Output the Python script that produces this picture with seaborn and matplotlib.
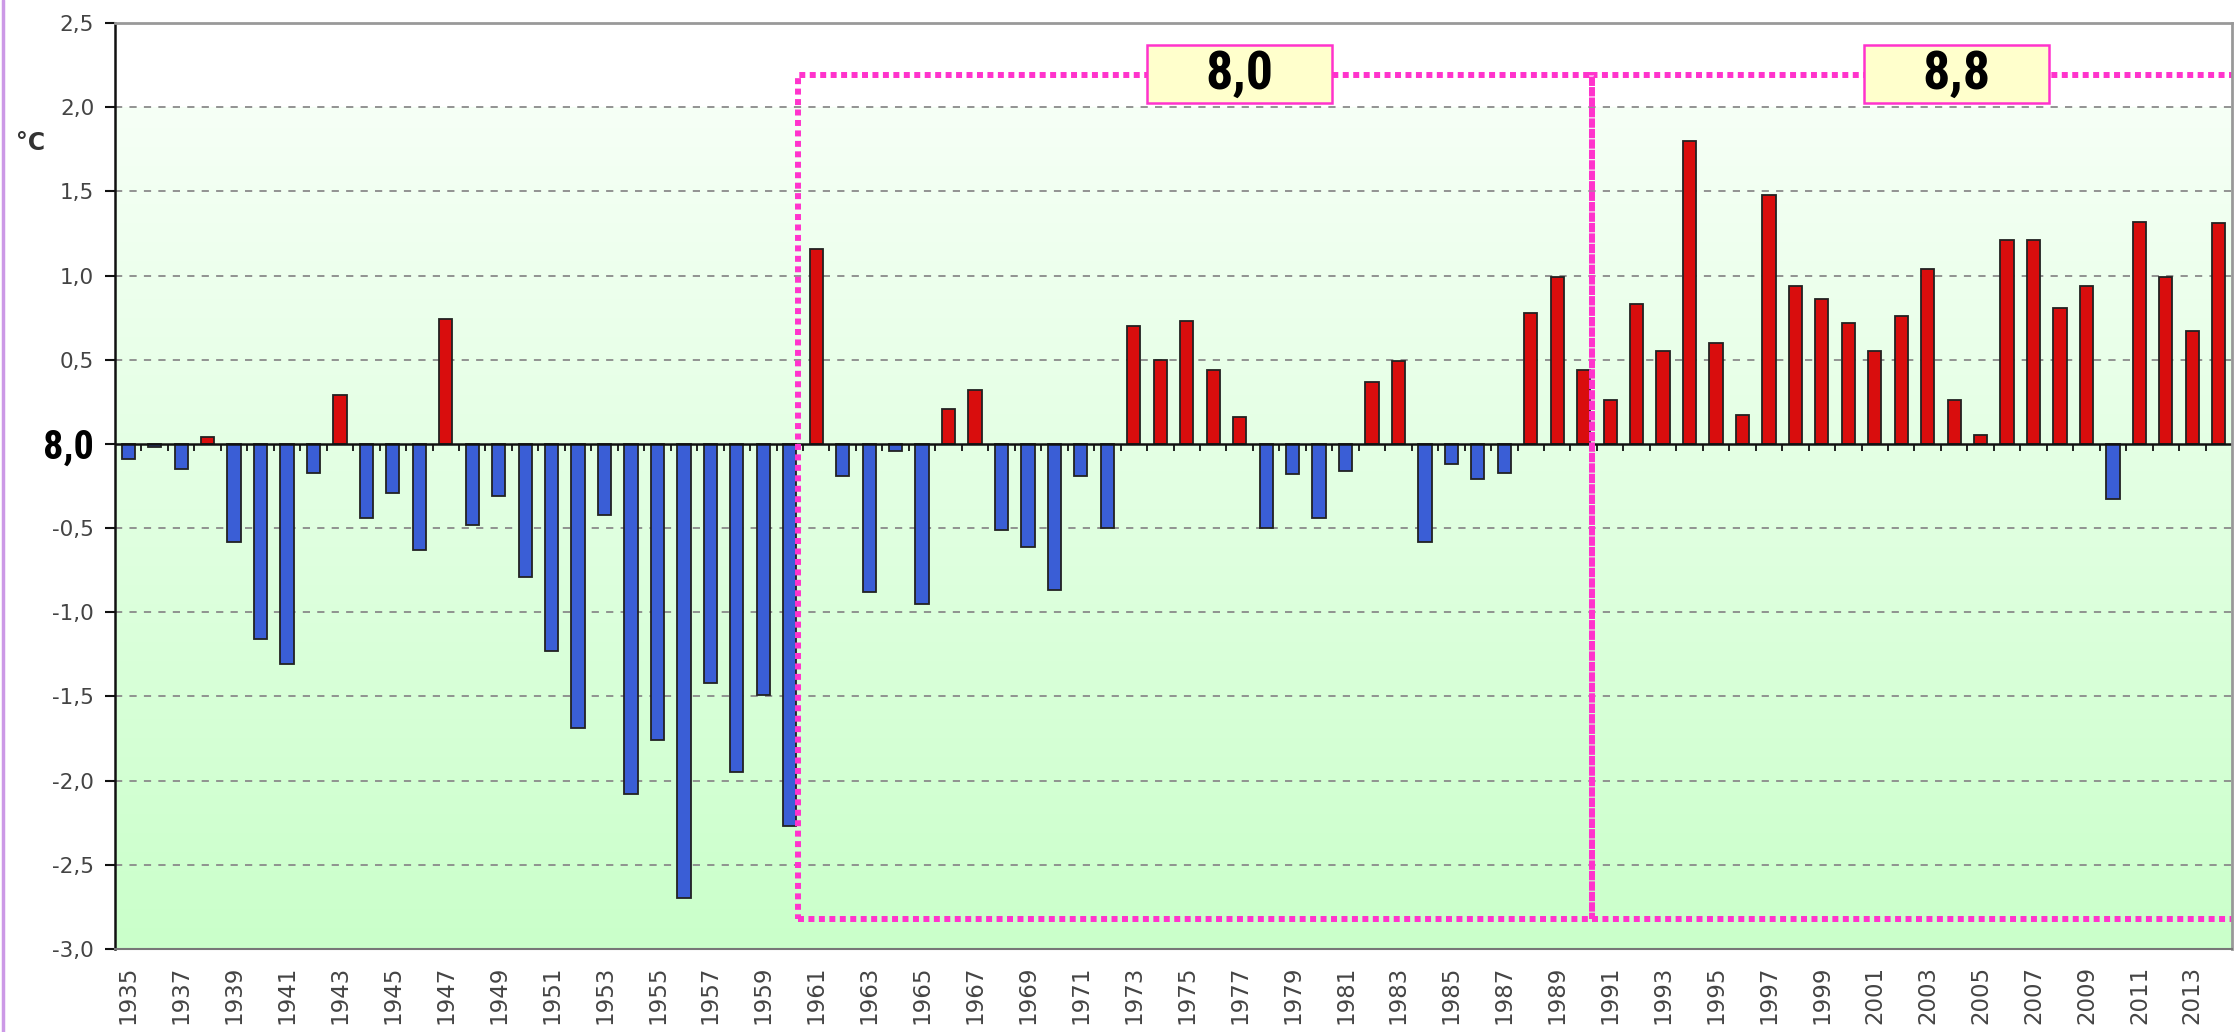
import numpy as np
import pandas as pd
import matplotlib
matplotlib.use("Agg")
import matplotlib.pyplot as plt
from matplotlib import font_manager
from matplotlib.patches import Rectangle
import seaborn as sns

# ---------------- data ----------------
years = list(range(1935, 2015))
anomalies = [
    -0.09, -0.02, -0.15, 0.04, -0.58, -1.16, -1.31, -0.17, 0.29, -0.44,
    -0.29, -0.63, 0.74, -0.48, -0.31, -0.79, -1.23, -1.69, -0.42, -2.08,
    -1.76, -2.70, -1.42, -1.95, -1.49, -2.27, 1.16, -0.19, -0.88, -0.04,
    -0.95, 0.21, 0.32, -0.51, -0.61, -0.87, -0.19, -0.50, 0.70, 0.50,
    0.73, 0.44, 0.16, -0.50, -0.18, -0.44, -0.16, 0.37, 0.49, -0.58,
    -0.12, -0.21, -0.17, 0.78, 0.99, 0.44, 0.26, 0.83, 0.55, 1.80,
    0.60, 0.17, 1.48, 0.94, 0.86, 0.72, 0.55, 0.76, 1.04, 0.26,
    0.05, 1.21, 1.21, 0.81, 0.94, -0.33, 1.32, 0.99, 0.67, 1.31,
]
y_ticks = [-3.0, -2.5, -2.0, -1.5, -1.0, -0.5, 0.0, 0.5, 1.0, 1.5, 2.0, 2.5]
y_tick_labels = ["-3,0", "-2,5", "-2,0", "-1,5", "-1,0", "-0,5", "8,0",
                 "0,5", "1,0", "1,5", "2,0", "2,5"]
period_labels = ["8,0", "8,8"]
period_starts = [1961, 1991]
unit_label = "°C"

# ---------------- style ----------------
sns.set_theme(style="white")
plt.rcParams['font.family'] = ['DejaVu Sans']

available = {f.name for f in font_manager.fontManager.ttflist}
narrow = None
for cand in ['Liberation Sans Narrow', 'Roboto Condensed', 'Open Sans Condensed',
             'DejaVu Sans Condensed', 'Noto Sans Condensed']:
    if cand in available:
        narrow = cand
        break
narrow_fam = [narrow, 'DejaVu Sans'] if narrow else ['DejaVu Sans']

BLUE = "#3a5ed6"
RED = "#d90d0d"
MAGENTA = "#ff33cc"

fig = plt.figure(figsize=(22.34, 10.32), dpi=100)
fig.patch.set_facecolor("white")
ax = fig.add_axes([115 / 2234, 1 - 949 / 1032, (2232 - 115) / 2234, (949 - 23) / 1032])

df = pd.DataFrame({
    "year": [str(y) for y in years],
    "val": anomalies,
})
df["sign"] = np.where(df["val"] >= 0, "warm", "cold")

# background gradient: white above 2.0, then light -> stronger green
ax.set_xlim(-0.5, len(years) - 0.5)
ax.set_ylim(-3.0, 2.5)
grad_top = np.array([246, 255, 246]) / 255
grad_bot = np.array([202, 255, 202]) / 255
t = np.linspace(0, 1, 256)[:, None]
grad = grad_top[None, :] * (1 - t) + grad_bot[None, :] * t
grad = grad[:, None, :]
ax.imshow(grad, aspect="auto", extent=(-0.5, len(years) - 0.5, -3.0, 2.0),
          origin="upper", zorder=0, interpolation="bilinear")
ax.set_facecolor("white")

# grid lines
for yt in y_ticks:
    if yt in (0.0, 2.5, -3.0):
        continue
    ax.axhline(yt, color="#8a8a8a", lw=1.3, ls=(0, (4, 4)), zorder=1)

sns.barplot(data=df, x="year", y="val", hue="sign",
            palette={"warm": RED, "cold": BLUE}, dodge=False, width=0.5,
            saturation=1, edgecolor="#222222", linewidth=1.3, legend=False,
            ax=ax, zorder=3)

ax.set_xlim(-0.5, len(years) - 0.5)
ax.set_ylim(-3.0, 2.5)

# zero line and small ticks between bars
ax.axhline(0, color="#111111", lw=1.8, zorder=4)
bounds = np.arange(len(years) - 1) + 0.5
ax.vlines(bounds, -0.042, 0, color="#111111", lw=1.3, zorder=4)

# period boxes
box_top, box_bot = 2.19, -2.82
x1 = years.index(period_starts[0]) - 0.7
x2 = years.index(period_starts[1]) - 0.7
for xa, xb in [(x1, x2), (x2, len(years) + 2)]:
    r = Rectangle((xa, box_bot), xb - xa, box_top - box_bot, fill=False,
                  edgecolor=MAGENTA, lw=4.3, ls=(0, (1.0, 0.75)), zorder=5,
                  clip_on=True)
    ax.add_patch(r)

# label boxes
lab_w, lab_h = 7.0, 0.345
for cx, lab in zip([42.0, 69.1], period_labels):
    r = Rectangle((cx - lab_w / 2, 2.022), lab_w, lab_h, facecolor="#ffffcc",
                  edgecolor=MAGENTA, lw=1.8, zorder=6)
    ax.add_patch(r)
    ax.text(cx, 2.022 + lab_h / 2, lab, ha="center", va="center",
            fontsize=39, fontweight="bold", family=narrow_fam,
            fontstretch="condensed", color="black", zorder=7)

# axes styling
for side in ["top", "right"]:
    ax.spines[side].set_color("#999999")
    ax.spines[side].set_linewidth(2.0)
ax.spines["bottom"].set_color("#777777")
ax.spines["bottom"].set_linewidth(1.5)
ax.spines["left"].set_color("#111111")
ax.spines["left"].set_linewidth(1.8)
for s in ax.spines.values():
    s.set_zorder(8)

ax.set_yticks(y_ticks)
ax.set_yticklabels(y_tick_labels)
ax.tick_params(axis="y", direction="out", length=7, width=1.5, color="#111111",
               labelsize=15.5, labelcolor="#444444", pad=8, left=True)
for lbl in ax.get_yticklabels():
    if lbl.get_text() == "8,0":
        lbl.set_fontsize(29)
        lbl.set_fontweight("bold")
        lbl.set_color("black")
        lbl.set_family(narrow_fam)
        lbl.set_fontstretch("condensed")

xt_labels = [str(y) if (y - years[0]) % 2 == 0 else "" for y in years]
ax.set_xticks(range(len(years)))
ax.set_xticklabels(xt_labels, rotation=90, fontsize=16.5, color="#444444")
ax.tick_params(axis="x", length=0, pad=12)
ax.set_xlabel("")
ax.set_ylabel("")

fig.text(31 / 2234, 1 - 143 / 1032, unit_label, ha="center", va="center",
         fontsize=17, fontweight="bold", color="#333333")

# lilac border at left edge
fig.add_artist(plt.Line2D([0.0012, 0.0012], [0, 1], color="#cc99e6", lw=2.5,
                          transform=fig.transFigure))

fig.savefig("out.png", dpi=100)
